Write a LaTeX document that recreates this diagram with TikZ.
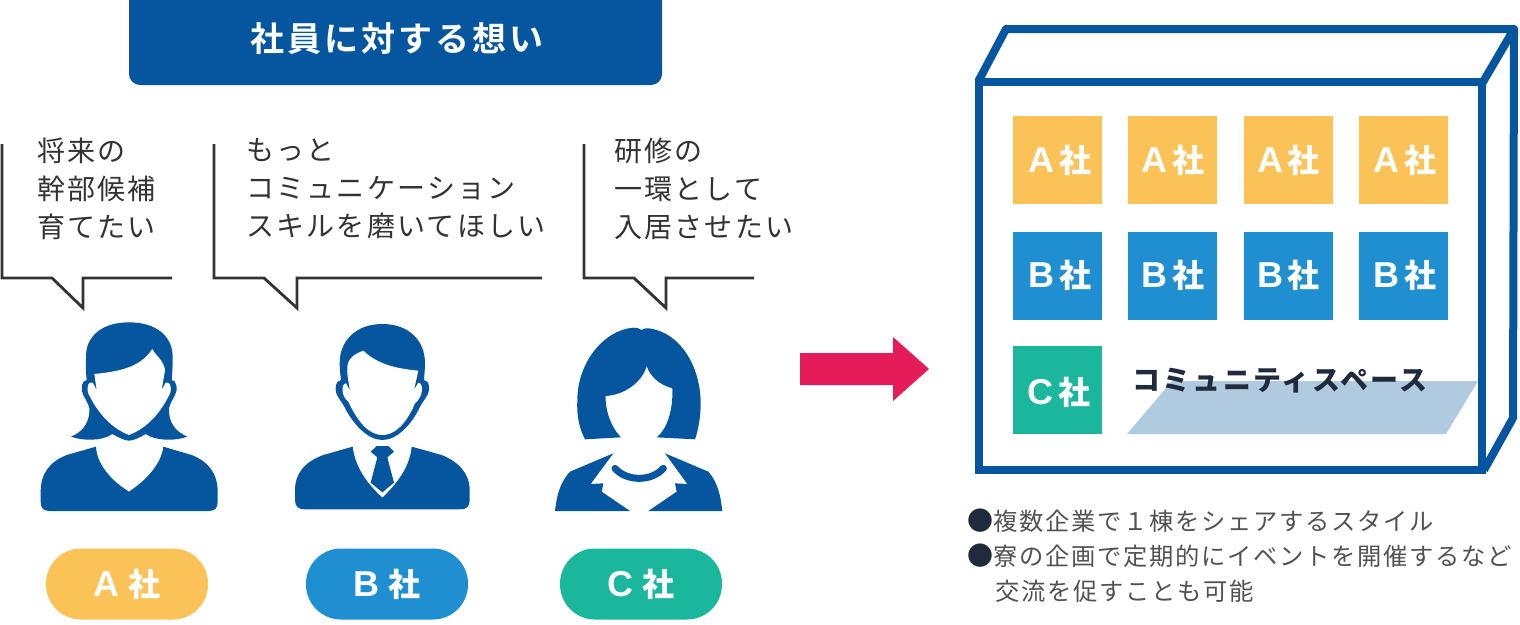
\documentclass[tikz,border=0pt]{standalone}
\usepackage{fontspec}
\setmainfont{Noto Sans CJK JP}
\newfontfamily\latinb{Liberation Sans Bold}
\newfontfamily\jpbody[LetterSpace=8]{Noto Sans CJK JP}
\newfontfamily\jpnote[LetterSpace=7]{Noto Sans CJK JP}
\newfontfamily\jphead[LetterSpace=9,BoldFont={Noto Sans CJK JP Bold}]{Noto Sans CJK JP}
\definecolor{navy}{HTML}{05569F}
\definecolor{ca}{HTML}{FBC257}
\definecolor{cb}{HTML}{1F8FD2}
\definecolor{cc}{HTML}{1BB79D}
\definecolor{ink}{HTML}{333333}
\definecolor{labelink}{HTML}{1F2A3C}
\definecolor{floorc}{HTML}{B0CAE0}
\definecolor{arrowc}{HTML}{E61B5A}
\newcommand{\co}[1]{{\fontsize{36}{36}\selectfont\latinb #1}}
\newcommand{\nb}{\textcolor{labelink}{\fontsize{26}{24}\selectfont ●}}
\tikzset{
  bubbletext/.style={anchor=west,inner sep=0pt,align=left,text=ink,font=\fontsize{28}{38}\selectfont\jpbody},
  bubbleline/.style={draw=ink,line width=2.8pt,line join=miter},
  pill/.style={rounded corners=35pt,fill=#1,draw=none,minimum width=162pt,minimum height=71pt,inner sep=0pt,text=white,font=\fontsize{32}{32}\selectfont\bfseries},
  sq/.style={fill=#1,draw=none,minimum width=89pt,minimum height=88pt,inner sep=0pt},
  sqlabel/.style={text=white,inner sep=0pt,font=\fontsize{32}{32}\selectfont\bfseries},
  bld/.style={draw=navy,line join=round},
  person/.style={fill=navy,draw=none},
  face/.style={fill=white,draw=none},
  note/.style={anchor=west,inner sep=0pt,text=ink!85!white,font=\fontsize{24.3}{24.3}\selectfont\jpnote}
}
\begin{document}
\begin{tikzpicture}[x=1pt,y=-1pt]
\useasboundingbox (0,0) rectangle (1520,624);
% header
\fill[navy,rounded corners=11pt] (129,-14) rectangle (662,85);
\node[text=white,inner sep=0pt,font=\fontsize{34}{34}\selectfont\jphead\bfseries] (head) at (397,39) {社員に対する想い};
% bubbles
\draw[bubbleline] (2,144) -- (2,278) -- (52,278) -- (83,308) -- (83,278) -- (172,278);
\draw[bubbleline] (214,144) -- (214,278) -- (264,278) -- (297,308) -- (297,278) -- (542,278);
\draw[bubbleline] (584,144) -- (584,278) -- (634,278) -- (666,308) -- (666,278) -- (754,278);
\node[bubbletext] (t1) at (37,189) {将来の\\幹部候補\\育てたい};
\node[bubbletext] (t2) at (246,189) {もっと\\コミュニケーション\\スキルを磨いてほしい};
\node[bubbletext] (t3) at (614,189) {研修の\\一環として\\入居させたい};
% person A
\begin{scope}[shift={(0,300)},x=.33333pt,y=-.33333pt]
\fill[person] (122,600) -- (122,575) .. controls (122,520) and (150,485) .. (200,465) -- (288,440)
 .. controls (290,490) and (330,540) .. (387,575) .. controls (440,540) and (485,490) .. (490,440)
 -- (575,465) .. controls (625,485) and (653,520) .. (653,575) -- (653,605)
 .. controls (653,625) and (645,633) .. (625,633) -- (150,633) .. controls (130,633) and (122,625) .. (122,605) -- cycle;
\fill[person] (387,67) .. controls (470,67) and (520,110) .. (518,175)
 .. controls (518,200) and (517,220) .. (515,240)
 .. controls (530,240) and (535,270) .. (525,285)
 .. controls (518,300) and (510,310) .. (507,325)
 .. controls (505,365) and (525,395) .. (562,410)
 .. controls (530,422) and (470,425) .. (437,402)
 .. controls (420,412) and (400,422) .. (387,422)
 .. controls (374,422) and (355,412) .. (337,402)
 .. controls (305,425) and (245,422) .. (213,410)
 .. controls (250,395) and (270,365) .. (268,325)
 .. controls (265,310) and (257,300) .. (250,285)
 .. controls (240,270) and (245,240) .. (260,240)
 .. controls (258,220) and (257,200) .. (258,175)
 .. controls (255,110) and (305,67) .. (387,67) -- cycle;
\fill[face] (283,222) .. controls (350,215) and (420,205) .. (457,147)
 .. controls (470,170) and (490,180) .. (495,210)
 -- (485,270) -- (497,248)
 .. controls (510,240) and (520,270) .. (505,290)
 .. controls (480,340) and (440,385) .. (387,405)
 .. controls (335,385) and (295,340) .. (270,290)
 .. controls (255,270) and (265,240) .. (278,248)
 -- (290,270) -- cycle;
\end{scope}
% person B and C
\begin{scope}[shift={(280,300)},x=.33333pt,y=-.33333pt]
\fill[person] (45,600) -- (45,570) .. controls (45,520) and (75,485) .. (130,465) -- (218,440)
 .. controls (225,500) and (260,550) .. (307,593) .. controls (352,550) and (390,500) .. (395,440)
 -- (485,465) .. controls (535,485) and (569,520) .. (569,570) -- (569,600)
 .. controls (569,620) and (560,628) .. (540,628) -- (75,628) .. controls (55,628) and (45,620) .. (45,600) -- cycle;
\fill[person] (272,455) -- (290,438) -- (325,438) -- (342,455) -- (322,472) -- (342,548) -- (307,577) -- (272,548) -- (292,472) -- cycle;
\fill[person] (307,72) .. controls (385,72) and (435,120) .. (435,190)
 .. controls (435,205) and (433,225) .. (432,240)
 .. controls (450,240) and (452,275) .. (438,292)
 .. controls (430,305) and (425,310) .. (420,320)
 .. controls (395,375) and (350,420) .. (307,420)
 .. controls (265,420) and (220,375) .. (193,320)
 .. controls (188,310) and (183,305) .. (175,292)
 .. controls (162,275) and (165,240) .. (183,240)
 .. controls (181,225) and (179,205) .. (179,190)
 .. controls (179,120) and (230,72) .. (307,72) -- cycle;
\fill[face] (250,152) .. controls (290,190) and (340,205) .. (415,212)
 -- (402,270) -- (415,248)
 .. controls (432,250) and (430,290) .. (405,310)
 .. controls (375,380) and (340,405) .. (307,405)
 .. controls (275,405) and (240,380) .. (205,305)
 .. controls (183,290) and (183,250) .. (198,250)
 -- (210,272) .. controls (205,240) and (200,220) .. (202,200)
 .. controls (205,170) and (230,160) .. (250,152) -- cycle;
% C
\fill[person] (1060,83) .. controls (1072,83) and (1080,86) .. (1085,90)
 .. controls (1090,86) and (1097,84) .. (1105,85)
 .. controls (1200,95) and (1262,200) .. (1262,310)
 .. controls (1262,350) and (1255,390) .. (1245,418) -- (1130,412)
 .. controls (1160,390) and (1180,330) .. (1177,265)
 .. controls (1140,255) and (1110,230) .. (1100,198)
 .. controls (1085,250) and (1030,285) .. (977,288)
 .. controls (975,340) and (1000,390) .. (1023,412) -- (915,418)
 .. controls (895,380) and (890,340) .. (892,300)
 .. controls (892,190) and (970,90) .. (1060,83) -- cycle;
\fill[person] (825,633) .. controls (830,590) and (838,550) .. (870,515) -- (1000,460) -- (932,552) -- (970,550) -- (965,575) -- (1050,633) -- cycle;
\fill[person] (1327,633) .. controls (1322,590) and (1315,550) .. (1285,515) -- (1155,460) -- (1222,552) -- (1185,550) -- (1190,575) -- (1105,633) -- cycle;
\draw[navy,line width=7pt,line cap=round] (1005,505) .. controls (1040,545) and (1115,545) .. (1150,505);
\end{scope}
% pills
\node[pill=ca] (pa) at (127,584) {\co{A}\hspace{.3em}社};
\node[pill=cb] (pb) at (387,584) {\co{B}\hspace{.3em}社};
\node[pill=cc] (pc) at (641,584) {\co{C}\hspace{.3em}社};
% arrow
\fill[arrowc] (800,353) -- (893,353) -- (893,337) -- (929,369) -- (893,401) -- (893,385) -- (800,385) -- cycle;
% building
\fill[floorc] (1127,434) -- (1172,381) -- (1478,381) -- (1446,434) -- cycle;
\draw[bld,line width=8pt] (979,80) -- (1006,29) -- (1514,29) -- (1483,82);
\draw[bld,line width=8pt] (1514,29) -- (1513,418) -- (1484,470);
\draw[bld,line width=8.5pt,line join=miter] (979,82) rectangle (1482,470);
% squares
\foreach \n/\cx/\lx in {1/1057.5/1060,2/1172.5/1173,3/1288.5/1288.5,4/1403.5/1405}{
  \node[sq=ca] (a\n) at (\cx,160) {};
  \node[sqlabel] (al\n) at (\lx,160) {\co{A}\hspace{.15em}社};
  \node[sq=cb] (b\n) at (\cx,275.5) {};
  \node[sqlabel] (bl\n) at (\lx,275.5) {\co{B}\hspace{.15em}社};
}
\node[sq=cc] (c1) at (1057.5,390) {};
\node[sqlabel] (cl1) at (1059,392) {\co{C}\hspace{.15em}社};
\node[inner sep=0pt,text=labelink,font=\fontsize{28}{28}\selectfont\jpbody\bfseries] (cs) at (1280,381) {コミュニティスペース};
% notes
\node[note] (n1) at (967,521) {\nb 複数企業で１棟をシェアするスタイル};
\node[note] (n2) at (967,556) {\nb 寮の企画で定期的にイベントを開催するなど};
\node[note] (n3) at (995,591) {交流を促すことも可能};
\end{tikzpicture}
\end{document}
